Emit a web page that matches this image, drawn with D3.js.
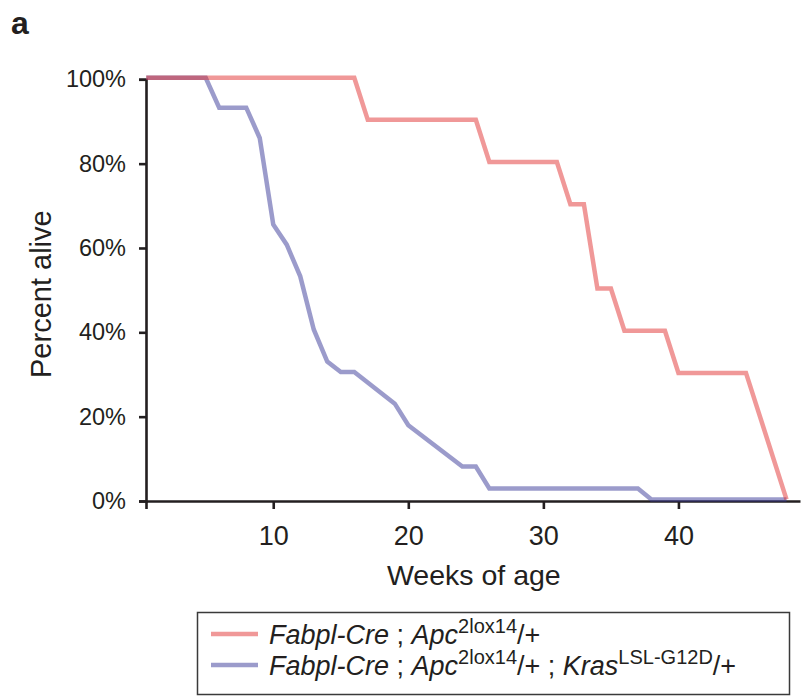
<!DOCTYPE html>
<html>
<head>
<meta charset="utf-8">
<script src="https://cdn.jsdelivr.net/npm/d3@7"></script>
<style>
  html, body { margin: 0; padding: 0; background: #fff; }
  svg { display: block; font-family: "Liberation Sans", Arial, Helvetica, sans-serif; }
</style>
</head>
<body>
<div id="chart"></div>
<script>
// survival data (weeks of age, percent alive)
const apcWeeks  = [0.6, 16, 17, 25, 26, 31, 32, 33, 34, 35, 36, 39, 40, 45, 48];
const apcAlive  = [100, 100, 90, 90, 80, 80, 70, 70, 50, 50, 40, 40, 30, 30, 0];
const krasWeeks = [0.6, 5, 6, 8, 9, 10, 11, 12, 13, 14, 15, 16, 19, 20, 24, 25, 26, 37, 38, 48];
const krasAlive = [100, 100, 92.9, 92.9, 85.7, 65.2, 60.4, 52.9, 40.3, 32.7, 30.2, 30.2, 22.7, 17.6, 7.8, 7.8, 2.6, 2.6, 0, 0];

const xTicks = [10, 20, 30, 40];
const yTicks = [0, 20, 40, 60, 80, 100];

const W = 803, H = 696;
const ink = '#231f20';
const redCol = 'rgba(225,49,49,0.5)';
const blueCol = 'rgba(55,55,151,0.5)';

const svg = d3.select('#chart').append('svg')
  .attr('width', W).attr('height', H)
  .attr('viewBox', `0 0 ${W} ${H}`);

const x = d3.scaleLinear().domain([0.58, 49]).range([146, 800]);
const y = d3.scaleLinear().domain([0, 100]).range([501, 79.3]);

// panel letter
svg.append('text')
  .attr('x', 11).attr('y', 34)
  .attr('font-size', 32).attr('font-weight', 'bold')
  .attr('fill', ink)
  .text('a');

// axes
const xAxis = d3.axisBottom(x)
  .tickValues([x.domain()[0], ...xTicks])
  .tickFormat(d => xTicks.includes(d) ? d : '')
  .tickSize(8).tickSizeOuter(0).tickPadding(17);

const yAxis = d3.axisLeft(y)
  .tickValues(yTicks)
  .tickFormat(d => d + '%')
  .tickSize(7).tickPadding(13);

const gx = svg.append('g').attr('transform', `translate(0,${y(0)})`).call(xAxis);
const gy = svg.append('g').attr('transform', `translate(${x.range()[0]},0)`).call(yAxis);

[gx, gy].forEach(g => {
  g.selectAll('path, line').attr('stroke', ink).attr('stroke-width', 2.6);
  g.selectAll('text').attr('fill', ink).attr('font-family', '"Liberation Sans", Arial, sans-serif');
});
gx.selectAll('text').attr('font-size', 27);
gy.selectAll('text').attr('font-size', 23.5);

// axis titles
svg.append('text')
  .attr('x', (x(10) + x(40)) / 2 - 2).attr('y', 585)
  .attr('text-anchor', 'middle')
  .attr('font-size', 28.5).attr('fill', ink)
  .text('Weeks of age');

svg.append('text')
  .attr('transform', `translate(51,${(y(0) + y(100)) / 2 + 4}) rotate(-90)`)
  .attr('text-anchor', 'middle')
  .attr('font-size', 29).attr('fill', ink)
  .text('Percent alive');

// curves
const line = d3.line()
  .x(d => x(d[0]))
  .y(d => y(d[1]));

const lines = svg.append('g').attr('transform', 'translate(0,-1.6)');

lines.append('path')
  .datum(d3.zip(krasWeeks, krasAlive))
  .attr('d', line)
  .attr('fill', 'none')
  .attr('stroke', blueCol)
  .attr('stroke-width', 4.5)
  .attr('stroke-linejoin', 'miter');

lines.append('path')
  .datum(d3.zip(apcWeeks, apcAlive))
  .attr('d', line)
  .attr('fill', 'none')
  .attr('stroke', redCol)
  .attr('stroke-width', 4.5)
  .attr('stroke-linejoin', 'miter');

// legend
const legend = svg.append('g');
legend.append('rect')
  .attr('x', 197.5).attr('y', 612.5)
  .attr('width', 592).attr('height', 82)
  .attr('fill', 'none')
  .attr('stroke', '#3a3a3a').attr('stroke-width', 1.5);

const legendRows = [
  { color: redCol, kras: false },
  { color: blueCol, kras: true }
];

legendRows.forEach((r, i) => {
  const ly = 634 + i * 31;
  legend.append('line')
    .attr('x1', 211).attr('x2', 258)
    .attr('y1', ly).attr('y2', ly)
    .attr('stroke', r.color).attr('stroke-width', 4.5);

  const t = legend.append('text')
    .attr('x', 269).attr('y', ly + 10)
    .attr('font-size', 27).attr('fill', ink);
  t.append('tspan').attr('font-style', 'italic').text('Fabpl-Cre');
  t.append('tspan').text(' ; ');
  t.append('tspan').attr('font-style', 'italic').text('Apc');
  t.append('tspan').attr('font-size', 20).attr('dy', -11).text('2lox14');
  t.append('tspan').attr('dy', 11).text('/+');
  if (r.kras) {
    t.append('tspan').text(' ; ');
    t.append('tspan').attr('font-style', 'italic').text('Kras');
    t.append('tspan').attr('font-size', 20).attr('dy', -11).text('LSL-G12D');
    t.append('tspan').attr('dy', 11).text('/+');
  }
});
</script>
</body>
</html>
